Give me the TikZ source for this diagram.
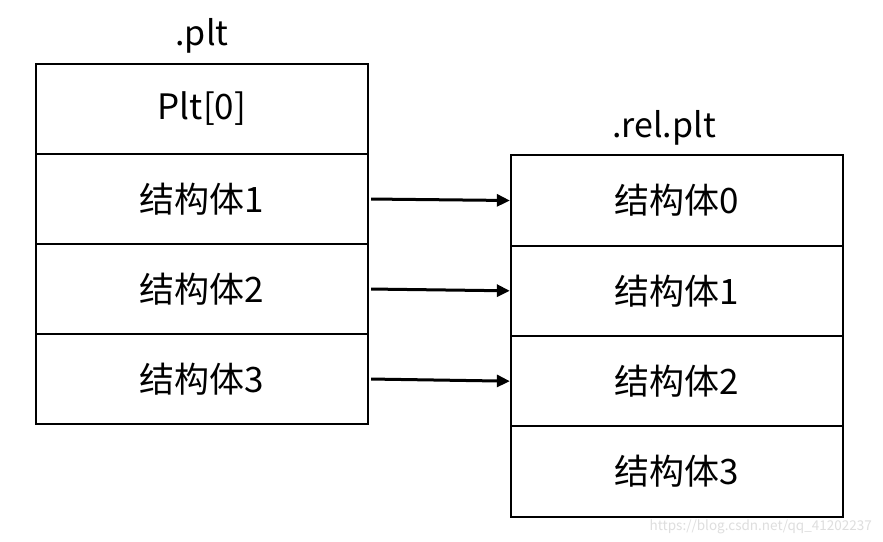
\documentclass[tikz,border=0pt]{standalone}
\usepackage{fontspec}
\setmainfont{Noto Sans CJK SC}
\usetikzlibrary{arrows.meta}
\begin{document}
\begin{tikzpicture}[x=1pt,y=-1pt,
  cell/.style={draw=black,line width=2.3pt,minimum width=332pt,minimum height=90pt,inner sep=0pt,font=\fontsize{35}{38}\selectfont},
  rcell/.style={cell,minimum height=90.33pt},
  title/.style={font=\fontsize{34}{38}\selectfont,inner sep=0pt},
  link/.style={line width=3pt,-{Triangle[length=13pt,width=12pt]},shorten <=2pt}]
\useasboundingbox (0,0) rectangle (883,541);
\fill[white] (0,0) rectangle (883,541);
% left stack
\node[cell] (l0) at (202,109) {Plt[0]};
\node[cell] (l1) at (202,199) {结构体1};
\node[cell] (l2) at (202,289) {结构体2};
\node[cell] (l3) at (202,379) {结构体3};
\node[title] (lt) at (202,36) {.plt};
% right stack
\node[rcell] (r0) at (677,200.5) {结构体0};
\node[rcell] (r1) at (677,290.83) {结构体1};
\node[rcell] (r2) at (677,381.17) {结构体2};
\node[rcell] (r3) at (677,471.5) {结构体3};
\node[title] (rt) at (664,128) {.rel.plt};
% arrows
\draw[link] (l1.east) -- (r0.west);
\draw[link] (l2.east) -- (r1.west);
\draw[link] (l3.east) -- (r2.west);
% watermark
\node[text=black!13,font=\fontsize{13.5}{15}\selectfont,inner sep=0pt,anchor=east] (wm) at (872,527) {https://blog.csdn.net/qq\_41202237};
\end{tikzpicture}
\end{document}
